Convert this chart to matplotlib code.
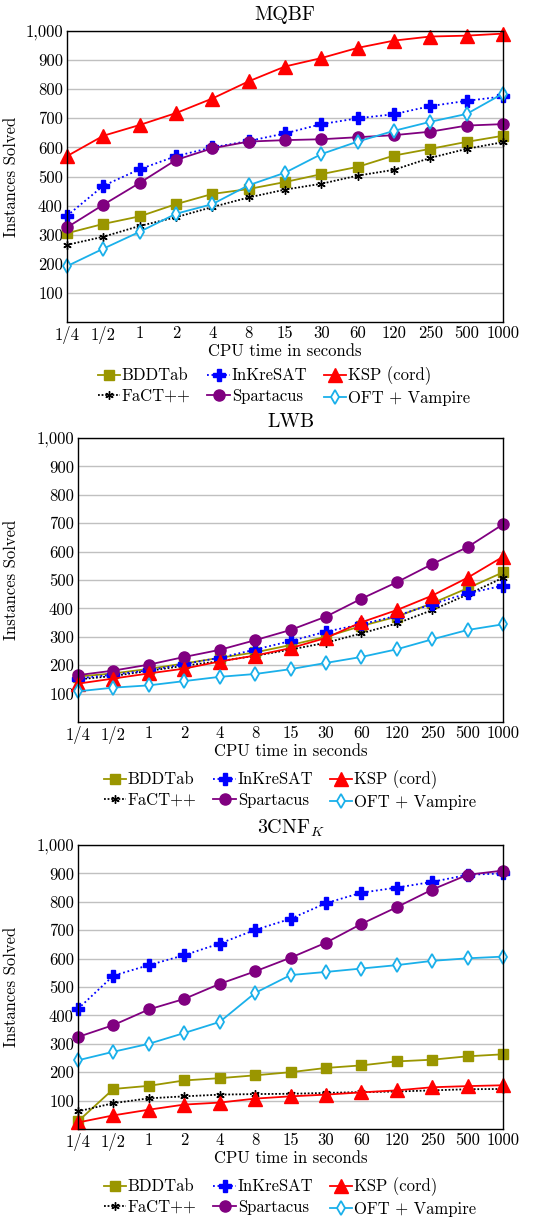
import matplotlib
matplotlib.use("Agg")
import matplotlib.pyplot as plt

plt.rcParams.update({
    "font.family": "cmr10", "mathtext.fontset": "cm",
    "axes.formatter.use_mathtext": True, "font.size": 12,
})

times = ["1/4", "1/2", "1", "2", "4", "8", "15", "30", "60", "120", "250", "500", "1000"]
solvers = ["BDDTab", "FaCT++", "InKreSAT", "Spartacus", "KSP (cord)", "OFT + Vampire"]

mqbf = {
    "BDDTab":        [305, 337, 363, 405, 440, 457, 481, 508, 533, 572, 595, 619, 640],
    "FaCT++":        [265, 293, 330, 360, 395, 428, 455, 475, 503, 523, 564, 595, 618],
    "InKreSAT":      [365, 468, 525, 570, 600, 622, 648, 680, 700, 714, 742, 760, 775],
    "Spartacus":     [325, 403, 478, 557, 597, 620, 625, 628, 635, 642, 654, 675, 680],
    "KSP (cord)":    [570, 640, 677, 718, 768, 827, 878, 907, 942, 967, 981, 984, 991],
    "OFT + Vampire": [192, 252, 310, 372, 405, 470, 513, 577, 620, 657, 688, 715, 785],
}
lwb = {
    "BDDTab":        [160, 171, 187, 206, 226, 245, 271, 300, 338, 371, 418, 471, 527],
    "FaCT++":        [150, 162, 180, 198, 214, 233, 255, 279, 312, 347, 394, 449, 508],
    "InKreSAT":      [153, 167, 182, 204, 226, 255, 285, 318, 344, 374, 415, 453, 480],
    "Spartacus":     [165, 181, 202, 229, 254, 288, 324, 371, 434, 492, 556, 616, 696],
    "KSP (cord)":    [135, 153, 171, 188, 213, 234, 260, 296, 351, 394, 445, 508, 582],
    "OFT + Vampire": [108, 121, 129, 144, 159, 169, 186, 208, 229, 256, 291, 324, 344],
}
cnf = {
    "BDDTab":        [27, 141, 152, 171, 179, 189, 200, 215, 224, 238, 244, 256, 263],
    "FaCT++":        [62, 91, 108, 115, 121, 123, 124, 127, 130, 132, 136, 140, 141],
    "InKreSAT":      [423, 540, 577, 612, 653, 701, 740, 795, 832, 850, 870, 895, 900],
    "Spartacus":     [324, 366, 421, 458, 511, 555, 603, 656, 722, 781, 843, 895, 910],
    "KSP (cord)":    [23, 48, 68, 86, 93, 107, 115, 121, 129, 136, 147, 151, 154],
    "OFT + Vampire": [242, 272, 300, 338, 377, 479, 542, 553, 565, 577, 592, 601, 607],
}

styles = {
    "BDDTab":        dict(color="#9a9600", ls="-", marker="s", ms=7),
    "FaCT++":        dict(color="black", ls=(0, (1, 1)), marker=(6, 2, 0), ms=6, mew=1.0),
    "InKreSAT":      dict(color="#0000ff", ls=(0, (1, 1.5)), marker="P", ms=8),
    "Spartacus":     dict(color="#800080", ls="-", marker="o", ms=8),
    "KSP (cord)":    dict(color="#ff0000", ls="-", marker="^", ms=10),
    "OFT + Vampire": dict(color="#1ab0ea", ls="-", marker="d", ms=7, mfc="white", mew=1.3),
}

W, H = 533, 1218
fig = plt.figure(figsize=(W / 100, H / 100), dpi=100)

panels = [
    ("MQBF", mqbf, (67, 31, 503, 322), (284, 386)),
    ("LWB", lwb, (78, 438, 503, 722), (290, 790)),
    ("3CNF$_K$", cnf, (78, 845, 503, 1129), (290, 1197)),
]

x = list(range(len(times)))
for title, data, (l, t, r, b), (lx, ly) in panels:
    ax = fig.add_axes([l / W, 1 - b / H, (r - l) / W, (b - t) / H])
    for name in solvers:
        ax.plot(x, data[name], lw=1.3, label=name, clip_on=False, zorder=3, **styles[name])
    ax.set_xlim(0, len(times) - 1)
    ax.set_ylim(0, 1000)
    ax.set_xticks(x)
    ax.set_xticklabels(times)
    yt = list(range(100, 1001, 100))
    ax.set_yticks(yt)
    ax.set_yticklabels([f"{v:,}" for v in yt])
    ax.tick_params(length=0, pad=3)
    ax.grid(axis="y", color="#c0c0c0", lw=1)
    ax.set_axisbelow(True)
    for s in ax.spines.values():
        s.set_linewidth(1.0)
        s.set_zorder(4)
    ax.set_title(title, pad=8)
    ax.set_xlabel("CPU time in seconds", labelpad=0)
    ax.set_ylabel("Instances Solved")
    ax.yaxis.set_label_coords((19 - l) / (r - l), 0.5)
    ax.legend(loc="center", bbox_to_anchor=(lx / W, 1 - ly / H), bbox_transform=fig.transFigure,
              ncol=3, frameon=False, fontsize=12, handlelength=1.35, handletextpad=0.1,
              columnspacing=1.0, labelspacing=0.3, borderpad=0)

fig.savefig("out.png", dpi=100)
